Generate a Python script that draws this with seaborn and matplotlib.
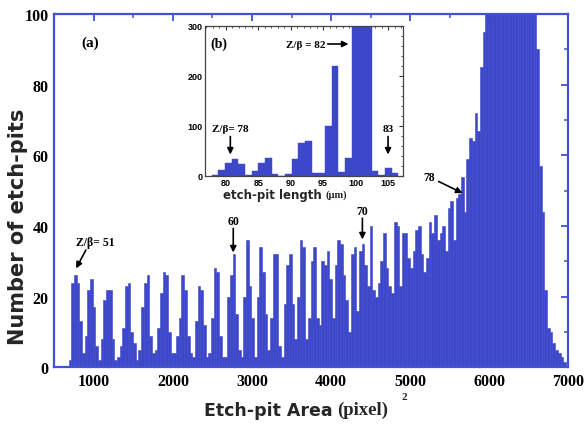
import numpy as np
import pandas as pd
import matplotlib
matplotlib.use("Agg")
import matplotlib.pyplot as plt
import seaborn as sns
from matplotlib.ticker import MultipleLocator

# ---------------- data ----------------
area_start = 680          # left edge of first bin, (pixel)^2
area_bin_width = 34       # bin width, (pixel)^2
area_counts = [
    2, 24, 26, 24, 13, 4, 9, 22, 25, 17, 6,
    2, 8, 19, 22, 22, 8, 2,
    3, 6, 11, 23, 24, 10, 7, 2,
    5, 17, 24, 26, 9, 4, 5,
    11, 21, 27, 26, 10, 4, 4,
    9, 14, 26, 22, 9, 4, 3,
    13, 23, 22, 12, 3, 4,
    14, 28, 27, 9, 3, 3,
    20, 26, 32, 15, 5, 3,
    20, 36, 23, 14, 3,
    20, 34, 27, 15, 5,
    14, 32, 32, 6, 3,
    18, 29, 32, 18, 8,
    20, 36, 34, 8,
    14, 30, 34, 14, 12,
    30, 29, 33, 25, 14,
    29, 36, 35, 26, 19, 10,
    32, 34, 16, 33, 35, 29, 23,
    40, 22, 20, 24, 30,
    38, 28, 23, 21, 41, 40, 23,
    38, 38, 31, 28, 33, 39, 40, 32, 27, 31,
    41, 38, 43, 36, 38, 40, 33, 45, 47, 36, 48, 49,
    54, 44, 59, 65, 64, 72, 67, 85, 95,
    120, 120, 120, 120, 120, 120, 120, 120, 120, 120,
    120, 120, 120, 120, 120, 120, 120, 120, 120,
    90, 57, 44, 22, 11, 10, 7, 5, 4, 3, 1.5,
]

length_start = 77.85      # um
length_bin_width = 1.027  # um
length_counts = [3, 12, 27, 35, 24, 3, 10, 27, 37, 5, 1, 5, 35, 66, 71, 6, 6,
                 100, 220, 8, 37, 400, 400, 400, 11, 2, 17, 7]

main_xticks = [1000, 2000, 3000, 4000, 5000, 6000, 7000]
main_yticks = [0, 20, 40, 60, 80, 100]
inset_xticks = [80, 85, 90, 95, 100, 105]
inset_yticks = [0, 100, 200, 300]

BLUE = "#3d47c9"
SPINE = "#4352d2"

sns.set_theme(style="white")
plt.rcParams["font.family"] = ["DejaVu Sans"]

W, H = 586, 427
fig = plt.figure(figsize=(W / 100, H / 100), dpi=100)

def fx(px):
    return px / W

def fy(py):
    return 1 - py / H

# ---------------- main histogram ----------------
ax = fig.add_axes([fx(54.3), fy(368.3), fx(568.3) - fx(54.3), fy(15) - fy(368.3)])
n_area = len(area_counts)
centers = area_start + area_bin_width * (np.arange(n_area) + 0.5)
df = pd.DataFrame({"area": centers, "count": area_counts})
sns.histplot(data=df, x="area", weights="count", binwidth=area_bin_width,
             binrange=(area_start, area_start + area_bin_width * n_area), ax=ax,
             color=BLUE, alpha=1, edgecolor=BLUE, linewidth=0.4)
ax.set_xlim(500, 7000)
ax.set_ylim(0, 100)
ax.set_xticks(main_xticks)
ax.set_yticks(main_yticks)
ax.xaxis.set_minor_locator(MultipleLocator(500))
ax.yaxis.set_minor_locator(MultipleLocator(10))
ax.tick_params(which="both", direction="in", top=True, right=True,
               color=SPINE, labelcolor="black", pad=4)
ax.tick_params(which="major", length=5, width=1.3)
ax.tick_params(which="minor", length=3, width=1.1)
for lab in ax.get_xticklabels() + ax.get_yticklabels():
    lab.set_fontfamily("Liberation Serif")
    lab.set_fontweight("bold")
    lab.set_fontsize(11.5)
for sp in ax.spines.values():
    sp.set_color(SPINE)
    sp.set_linewidth(1.6)
ax.set_xlabel("")
ax.set_ylabel("")

fig.text(fx(18), fy(227), "Number of etch-pits", rotation=90, ha="center", va="center",
         fontsize=15, fontweight="bold", family="DejaVu Sans")
fig.text(fx(333), fy(411), "Etch-pit Area", ha="right", va="center",
         fontsize=12.5, fontweight="bold", family="DejaVu Sans")
fig.text(fx(337), fy(410), "(pixel)", ha="left", va="center",
         fontsize=13.5, fontweight="bold", family="Liberation Serif")
fig.text(fx(401), fy(398), "2", ha="left", va="center",
         fontsize=8, fontweight="bold", family="Liberation Serif")

serif_b = dict(family="Liberation Serif", fontweight="bold", color="black")
arrow = dict(arrowstyle="-|>", color="black", lw=1.2, mutation_scale=9,
             shrinkA=0, shrinkB=0)

ax.text(952, 92, "(a)", fontsize=11, ha="center", va="center", **serif_b)
ax.text(1015, 35.4, "Z/β= 51", fontsize=8.5, ha="center", va="center", **serif_b)
ax.annotate("", xy=(775, 28.0), xytext=(900, 33.2), arrowprops=arrow)
ax.text(2763, 41.4, "60", fontsize=8.5, ha="center", va="center", **serif_b)
ax.annotate("", xy=(2763, 32.5), xytext=(2763, 39.3), arrowprops=arrow)
ax.text(4396, 44.3, "70", fontsize=8.5, ha="center", va="center", **serif_b)
ax.annotate("", xy=(4396, 36.2), xytext=(4396, 42.2), arrowprops=arrow)
ax.text(5244, 53.9, "78", fontsize=8.5, ha="center", va="center", **serif_b)
ax.annotate("", xy=(5662, 49.3), xytext=(5360, 52.6), arrowprops=arrow)

# ---------------- inset ----------------
ax2 = fig.add_axes([fx(205), fy(177), fx(403) - fx(205), fy(27) - fy(177)])
ax2.set_facecolor("white")
n_len = len(length_counts)
l_centers = length_start + length_bin_width * (np.arange(n_len) + 0.5)
df2 = pd.DataFrame({"length": l_centers, "count": length_counts})
sns.histplot(data=df2, x="length", weights="count", binwidth=length_bin_width,
             binrange=(length_start, length_start + length_bin_width * n_len), ax=ax2,
             color=BLUE, alpha=1, edgecolor=BLUE, linewidth=0.3)
ax2.set_xlim(76.8, 107.3)
ax2.set_ylim(0, 300)
ax2.set_xticks(inset_xticks)
ax2.set_yticks(inset_yticks)
ax2.xaxis.set_minor_locator(MultipleLocator(1))
ax2.yaxis.set_minor_locator(MultipleLocator(20))
ax2.tick_params(which="both", direction="in", top=True, right=True,
                color="#333333", labelcolor="black", pad=1.5, labelsize=6.5)
ax2.tick_params(which="major", length=3, width=0.8)
ax2.tick_params(which="minor", length=1.5, width=0.6)
for lab in ax2.get_xticklabels() + ax2.get_yticklabels():
    lab.set_fontweight("bold")
    lab.set_fontfamily("Liberation Sans")
for sp in ax2.spines.values():
    sp.set_color("#444444")
    sp.set_linewidth(0.9)
ax2.set_xlabel("")
ax2.set_ylabel("")

fig.text(fx(322), fy(195), "etch-pit length", ha="right", va="center",
         fontsize=8.5, fontweight="bold", family="DejaVu Sans")
fig.text(fx(325), fy(195), "(μm)", ha="left", va="center",
         fontsize=7.5, fontweight="bold", family="Liberation Serif")

ax2.text(78.9, 266, "(b)", fontsize=10, ha="center", va="center", **serif_b)
ax2.text(92.3, 264, "Z/β = 82", fontsize=8, ha="center", va="center", **serif_b)
ax2.annotate("", xy=(98.9, 264), xytext=(95.7, 264), arrowprops=arrow)
ax2.text(80.7, 96, "Z/β= 78", fontsize=8, ha="center", va="center", **serif_b)
ax2.annotate("", xy=(80.7, 43), xytext=(80.7, 79), arrowprops=arrow)
ax2.text(105.0, 94, "83", fontsize=8, ha="center", va="center", **serif_b)
ax2.annotate("", xy=(105.0, 43), xytext=(105.0, 79), arrowprops=arrow)

fig.savefig("out.png", dpi=100, facecolor="white")
